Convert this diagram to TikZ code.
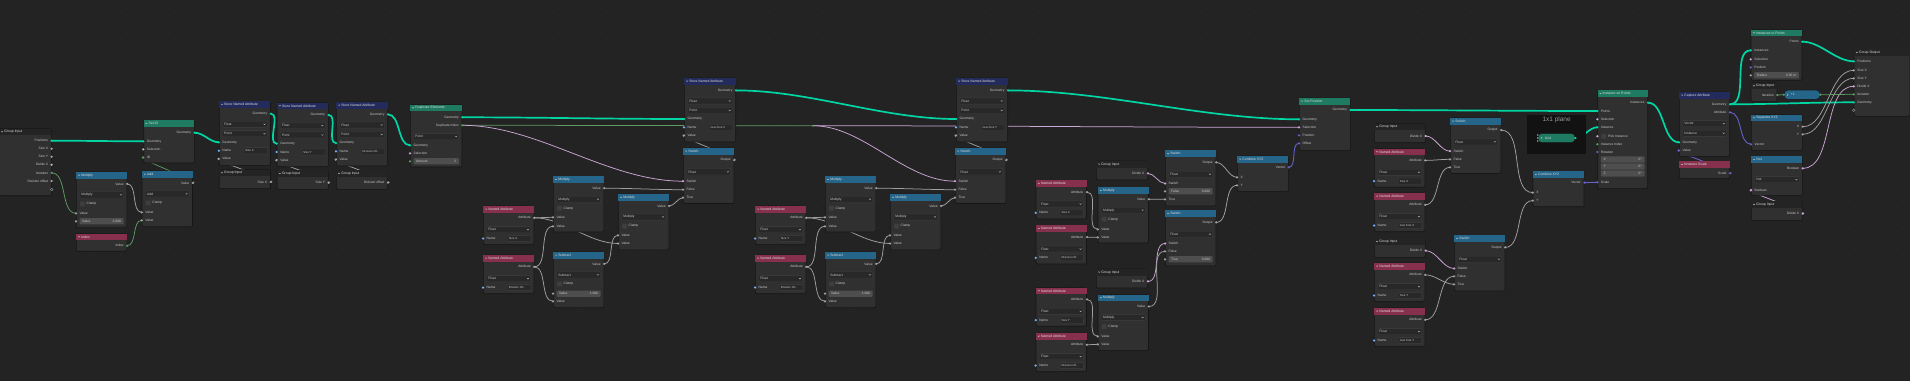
\documentclass[tikz,border=0pt]{standalone}
\usepackage{fontspec}
\setmainfont{Liberation Sans}
\usetikzlibrary{calc}
\pgfdeclarelayer{bg}
\pgfdeclarelayer{wires}
\pgfsetlayers{bg,wires,main}
\definecolor{canvas}{HTML}{232323}
\definecolor{dotc}{HTML}{2B2B2B}
\definecolor{body}{HTML}{303030}
\definecolor{rim}{HTML}{161616}
\definecolor{txt}{HTML}{CACACA}
\definecolor{hdgroup}{HTML}{242424}
\definecolor{hdgeo}{HTML}{1F7A62}
\definecolor{hdattr}{HTML}{232B5C}
\definecolor{hdin}{HTML}{87304E}
\definecolor{hdconv}{HTML}{25658A}
\definecolor{fldbg}{HTML}{282828}
\definecolor{fldrim}{HTML}{3E3E3E}
\definecolor{valbg}{HTML}{4E4E4E}
\definecolor{framebg}{HTML}{121212}
\definecolor{geoc}{HTML}{00D6A3}
\definecolor{fltc}{HTML}{A1A1A1}
\definecolor{intc}{HTML}{5E9A61}
\definecolor{boolc}{HTML}{CCA6D6}
\definecolor{vecc}{HTML}{6363C7}
\definecolor{strc}{HTML}{70B2FF}

% node body + header: name, x, y, width, height, header colour, title
\newcommand\bnode[7]{%
  \node[nbody, minimum width=#4pt, minimum height=#5pt] (#1) at (#2,#3) {};
  \fill[#6] ([shift={(0.35pt,-0.35pt)}]#1.north west) rectangle ([shift={(-0.35pt,-7pt)}]#1.north east);
  \draw[chev, draw=white!80!black] ([shift={(2.2pt,-3pt)}]#1.north west) -- ++(0.9,0.9) -- ++(0.9,-0.9);
  \node[ttl] at ([shift={(5.2pt,-3.5pt)}]#1.north west) {#7};
}
% sockets: node, key, y, label, colour
\newcommand\so[5]{%
  \coordinate (#1-#2) at (#1.east |- 0,#3);
  \node[lbl, anchor=east] at ([xshift=-3.4pt]#1-#2) {#4};
  \fill[#5] (#1-#2) circle (1.25pt);
}
\newcommand\si[5]{%
  \coordinate (#1-#2) at (#1.west |- 0,#3);
  \node[lbl, anchor=west] at ([xshift=3.4pt]#1-#2) {#4};
  \fill[#5] (#1-#2) circle (1.25pt);
}
% dropdown: node, y, text
\newcommand\dd[3]{%
  \coordinate (fl) at (#1.west |- 0,#2);
  \coordinate (fr) at (#1.east |- 0,#2);
  \draw[fld] ([shift={(3.5pt,3.1pt)}]fl) rectangle ([shift={(-3.5pt,-3.1pt)}]fr);
  \node[lbl, anchor=west] at ([xshift=5.2pt]fl) {#3};
  \draw[chev] ([shift={(-7.2pt,0.5pt)}]fr) -- ++(0.9,0.9) -- ++(0.9,-0.9);
}
% number field: node, y, label, value (+ socket colour)
\newcommand\fx[4]{%
  \coordinate (fl) at (#1.west |- 0,#2);
  \coordinate (fr) at (#1.east |- 0,#2);
  \fill[valf] ([shift={(3.5pt,3.1pt)}]fl) rectangle ([shift={(-3.5pt,-3.1pt)}]fr);
  \node[lbl, anchor=west] at ([xshift=6pt]fl) {#3};
  \node[lbl, anchor=east] at ([xshift=-6pt]fr) {#4};
}
\newcommand\fv[5]{\fx{#1}{#2}{#3}{#4}\fill[#5] (fl) circle (1.25pt);}
% name field: node, y, value
\newcommand\nm[3]{%
  \coordinate (fl) at (#1.west |- 0,#2);
  \coordinate (fr) at (#1.east |- 0,#2);
  \node[lbl, anchor=west] at ([xshift=3.4pt]fl) {Name};
  \draw[fld] ([shift={(-27pt,3.1pt)}]fr) rectangle ([shift={(-3.5pt,-3.1pt)}]fr);
  \node[lbl, anchor=west, font=\fontsize{2.9}{3.4}\selectfont] at ([xshift=-25.6pt]fr) {#3};
  \fill[strc] (fl) circle (1.25pt);
}
% checkbox: node, y, label
\newcommand\cb[3]{%
  \coordinate (fl) at (#1.west |- 0,#2);
  \fill[chk] ([shift={(4pt,2.4pt)}]fl) rectangle ([shift={(8.8pt,-2.4pt)}]fl);
  \node[lbl, anchor=west] at ([xshift=10.5pt]fl) {#3};
}
% node kinds
\newcommand\gin[6]{%
  \bnode{#1}{#2}{#3}{#4}{19}{hdgroup}{Group Input}
  \so{#1}{o}{#3+12.7}{#5}{#6}
}
\newcommand\sna[4]{%
  \bnode{#1}{#2}{#3}{51.3}{64}{hdattr}{Store Named Attribute}
  \so{#1}{geo}{#3+12.7}{Geometry}{geoc}
  \dd{#1}{#3+23.3}{Float}
  \dd{#1}{#3+32.7}{Point}
  \si{#1}{gin}{#3+41.3}{Geometry}{geoc}
  \nm{#1}{#3+49.7}{#4}
  \si{#1}{val}{#3+57.7}{Value}{fltc}
}
\newcommand\nattr[4]{%
  \bnode{#1}{#2}{#3}{50.5}{38.6}{hdin}{Named Attribute}
  \so{#1}{att}{#3+12.1}{Attribute}{fltc}
  \dd{#1}{#3+24}{Float}
  \nm{#1}{#3+32.8}{#4}
}
\newcommand\mathn[4]{%
  \bnode{#1}{#2}{#3}{50.5}{55.7}{hdconv}{#4}
  \so{#1}{v}{#3+12.2}{Value}{fltc}
  \dd{#1}{#3+23.2}{#4}
  \cb{#1}{#3+32.3}{Clamp}
}
\newcommand\swn[3]{%
  \bnode{#1}{#2}{#3}{50.5}{55.5}{hdconv}{Switch}
  \so{#1}{o}{#3+12.4}{Output}{fltc}
  \dd{#1}{#3+24.2}{Float}
  \si{#1}{sw}{#3+33.5}{Switch}{boolc}
}
\newcommand\cmb[3]{%
  \bnode{#1}{#2}{#3}{51}{35.3}{hdconv}{Combine XYZ}
  \so{#1}{v}{#3+11.6}{Vector}{vecc}
  \si{#1}{x}{#3+21.6}{X}{fltc}
  \si{#1}{y}{#3+29.6}{Y}{fltc}
}

\begin{document}
\begin{tikzpicture}[x=1pt, y=-1pt,
  nbody/.style={draw=rim, fill=body, line width=0.7pt, rounded corners=1.2pt,
                inner sep=0pt, anchor=north west},
  ttl/.style={font=\fontsize{3.4}{4}\selectfont, text=white!88!black, inner sep=0pt, anchor=west},
  lbl/.style={font=\fontsize{3.3}{4}\selectfont, text=txt, inner sep=0pt},
  chev/.style={draw=txt, line width=0.35pt},
  fld/.style={draw=fldrim, fill=fldbg, line width=0.35pt, rounded corners=0.8pt},
  valf/.style={fill=valbg, rounded corners=0.8pt},
  chk/.style={fill=valbg!80!black, rounded corners=0.5pt},
  hollow/.style={draw=txt!70!black, line width=0.45pt},
  pill/.style={draw=rim, line width=0.5pt, rounded corners=4pt, minimum height=9.4pt, inner sep=0pt},
  wire/.style={out=0, in=180, looseness=0.85},
  loopback/.style={out=0, in=180, looseness=0.45},
  geo/.style={draw=geoc, line width=1.7pt},
  flt/.style={draw=fltc, line width=0.75pt},
  intw/.style={draw=intc, line width=0.75pt},
  boolw/.style={draw=boolc, line width=0.75pt},
  vecw/.style={draw=vecc, line width=0.9pt},
]
  \useasboundingbox (0,0) rectangle (1910,381);
  \begin{pgfonlayer}{bg}
    \fill[canvas] (0,0) rectangle (1910,381);
    \foreach \gx in {13,40,...,1910}
      \foreach \gy in {12,39,...,381}
        \fill[dotc] (\gx,\gy) circle (0.8pt);
  \end{pgfonlayer}

  % --- group input, id ---
  \bnode{gi}{-1}{128.3}{52}{67}{hdgroup}{Group Input}
  \so{gi}{pos}{140.7}{Positions}{geoc}
  \so{gi}{sx}{148.7}{Size X}{fltc}
  \so{gi}{sy}{156.7}{Size Y}{fltc}
  \so{gi}{dx}{164.7}{Divide X}{boolc}
  \so{gi}{it}{172.9}{Iteration}{intc}
  \so{gi}{off}{181}{Division offset}{fltc}
  \draw[hollow] (gi.east |- 0,189.5) circle (1.3pt);

  \mathn{mul}{76}{171.7}{Multiply}
  \si{mul}{a}{213.3}{Value}{fltc}
  \fv{mul}{221.3}{Value}{2.000}{fltc}
  \bnode{idx}{76}{233.3}{50.5}{17.5}{hdin}{Index}
  \so{idx}{i}{245.7}{Index}{intc}
  \mathn{add}{141.7}{170.7}{Add}
  \si{add}{a}{212.3}{Value}{fltc}
  \si{add}{b}{220.3}{Value}{fltc}
  \bnode{sid}{143.3}{120}{50.7}{42.7}{hdgeo}{Set ID}
  \so{sid}{geo}{132.7}{Geometry}{geoc}
  \si{sid}{gin}{141.3}{Geometry}{geoc}
  \si{sid}{sel}{149.3}{Selection}{boolc}
  \si{sid}{id}{157.3}{ID}{intc}

  % --- store the inputs ---
  \sna{sa}{218.8}{101}{Size X}
  \sna{sb}{276.7}{102.3}{Size Y}
  \sna{sc}{336}{101.7}{Division off...}
  \gin{gsx}{218.8}{169.3}{51.3}{Size X}{fltc}
  \gin{gsy}{276.7}{170}{51.3}{Size Y}{fltc}
  \gin{goff}{336}{170}{51.3}{Division offset}{fltc}

  \bnode{dup}{410}{104.3}{51.7}{62.4}{hdgeo}{Duplicate Elements}
  \so{dup}{geo}{117.3}{Geometry}{geoc}
  \so{dup}{idx}{125.3}{Duplicate Index}{intc}
  \dd{dup}{136.7}{Point}
  \si{dup}{gin}{145.3}{Geometry}{geoc}
  \si{dup}{sel}{153.3}{Selection}{boolc}
  \fv{dup}{161.3}{Amount}{2}{intc}
  \coordinate (rr) at (813,125.7);
  \fill[intc] (rr) circle (1.1pt);

  % --- new size X and new size Y ---
  \foreach \p/\dx/\lab in {sx/0/Size X, sy/272/Size Y}{
    \nattr{\p na}{483+\dx}{205.7}{\lab}
    \nattr{\p nd}{483+\dx}{254.7}{Division off...}
    \mathn{\p ma}{553+\dx}{176}{Multiply}
    \si{\p ma}{a}{217.3}{Value}{fltc}
    \si{\p ma}{b}{226.3}{Value}{fltc}
    \mathn{\p su}{553+\dx}{251.7}{Subtract}
    \fv{\p su}{293.7}{Value}{1.000}{fltc}
    \si{\p su}{b}{301.3}{Value}{fltc}
    \mathn{\p mb}{618+\dx}{193.8}{Multiply}
    \si{\p mb}{a}{235.3}{Value}{fltc}
    \si{\p mb}{b}{243.5}{Value}{fltc}
    \swn{\p sw}{683+\dx}{147.7}
    \si{\p sw}{f}{189.7}{False}{fltc}
    \si{\p sw}{t}{197.7}{True}{fltc}
    \sna{\p st}{684+\dx}{77.7}{new \lab}
    \begin{pgfonlayer}{wires}
      \draw[flt] (\p na-att) to[wire] (\p ma-a);
      \draw[flt] (\p na-att) to[wire] (\p mb-b);
      \draw[flt] (\p nd-att) to[wire] (\p ma-b);
      \draw[flt] (\p nd-att) to[wire] (\p su-b);
      \draw[flt] (\p su-v) to[wire] (\p mb-a);
      \draw[flt] (\p ma-v) to[wire] (\p sw-f);
      \draw[flt] (\p mb-v) to[wire] (\p sw-t);
      \draw[flt] (\p sw-o) to[loopback] (\p st-val);
    \end{pgfonlayer}
  }

  % --- offset ---
  \gin{gdxa}{1096}{160.7}{51.3}{Divide X}{boolc}
  \nattr{oxa}{1035.7}{180}{Size X}
  \nattr{oxb}{1035.7}{225}{Division off...}
  \mathn{oma}{1097.7}{187}{Multiply}
  \si{oma}{a}{229.3}{Value}{fltc}
  \si{oma}{b}{237.3}{Value}{fltc}
  \swn{osx}{1165}{150}
  \fv{osx}{191.3}{False}{0.000}{fltc}
  \si{osx}{t}{199.3}{True}{fltc}
  \swn{osy}{1165}{210}
  \si{osy}{f}{251.3}{False}{fltc}
  \fv{osy}{259.3}{True}{0.000}{fltc}
  \gin{gdxb}{1096}{268.7}{51.3}{Divide X}{boolc}
  \nattr{oya}{1035.7}{287.3}{Size Y}
  \nattr{oyb}{1035.7}{332.7}{Division off...}
  \mathn{omb}{1097.7}{294.3}{Multiply}
  \si{omb}{a}{336.3}{Value}{fltc}
  \si{omb}{b}{344.3}{Value}{fltc}
  \cmb{ocx}{1237}{155.7}

  \bnode{sp}{1299}{97.7}{51}{52.3}{hdgeo}{Set Position}
  \so{sp}{geo}{110}{Geometry}{geoc}
  \si{sp}{gin}{119.3}{Geometry}{geoc}
  \si{sp}{sel}{127.3}{Selection}{boolc}
  \si{sp}{pos}{135.3}{Position}{vecc}
  \si{sp}{off}{143.3}{Offset}{vecc}

  % --- scale ---
  \gin{gdxc}{1374}{123.3}{51}{Divide X}{boolc}
  \nattr{sca}{1374}{148.3}{Size X}
  \nattr{scb}{1374}{192.7}{new Size X}
  \gin{gdxd}{1374}{238}{51}{Divide X}{boolc}
  \nattr{scc}{1374}{262.7}{Size Y}
  \nattr{scd}{1374}{307.7}{new Size Y}
  \swn{ssx}{1450}{117.7}
  \si{ssx}{f}{159.3}{False}{fltc}
  \si{ssx}{t}{167.3}{True}{fltc}
  \swn{ssy}{1454}{235}
  \si{ssy}{f}{276.3}{False}{fltc}
  \si{ssy}{t}{284.3}{True}{fltc}
  \cmb{scx}{1532.7}{171}

  % --- 1x1 plane frame ---
  \fill[framebg] (1527.3,115) rectangle (1586,154.3);
  \node[font=\fontsize{6.5}{7}\selectfont, text=txt!75!black, inner sep=0pt] (plane) at (1556.6,119.8) {1x1 plane};
  \node[pill, fill=hdgeo, minimum width=37pt] (grid) at (1556.5,138) {};
  \draw[chev, draw=white!85!black] ([shift={(3.6pt,1pt)}]grid.west) -- ++(0.8,1) -- ++(-0.8,1);
  \node[lbl, anchor=west, text=white!85!black] at ([xshift=7pt]grid.west) {Grid};
  \foreach \dy in {-3,0,3}
    \fill[fltc] ([yshift=\dy pt]grid.west) circle (0.9pt);
  \fill[geoc] (grid.east) circle (1.25pt);

  % --- instancing ---
  \bnode{iop}{1597.3}{90}{50}{98.3}{hdgeo}{Instance on Points}
  \so{iop}{inst}{102.7}{Instances}{geoc}
  \si{iop}{pts}{111}{Points}{geoc}
  \si{iop}{sel}{119.3}{Selection}{boolc}
  \si{iop}{ins}{127.3}{Instance}{geoc}
  \si{iop}{pick}{136.3}{}{boolc}
  \cb{iop}{136.3}{Pick Instance}
  \si{iop}{iidx}{144.3}{Instance Index}{intc}
  \si{iop}{rot}{152}{Rotation}{vecc}
  \fx{iop}{159.5}{X}{0°}
  \fx{iop}{166.5}{Y}{0°}
  \fx{iop}{173.5}{Z}{0°}
  \si{iop}{scale}{182.3}{Scale}{vecc}

  \bnode{cap}{1679}{91.7}{50.3}{64.3}{hdattr}{Capture Attribute}
  \so{cap}{geo}{104.3}{Geometry}{geoc}
  \so{cap}{att}{112.3}{Attribute}{vecc}
  \dd{cap}{123.7}{Vector}
  \dd{cap}{133.3}{Instance}
  \si{cap}{gin}{142.3}{Geometry}{geoc}
  \si{cap}{val}{150.3}{Value}{vecc}
  \bnode{isc}{1679}{161}{50.3}{17.3}{hdin}{Instance Scale}
  \so{isc}{s}{173.3}{Scale}{vecc}

  \bnode{itp}{1750.7}{29.3}{51}{50.7}{hdgeo}{Instances to Points}
  \so{itp}{pts}{41.7}{Points}{geoc}
  \si{itp}{inst}{50.3}{Instances}{geoc}
  \si{itp}{sel}{59.3}{Selection}{boolc}
  \si{itp}{pos}{67.3}{Position}{vecc}
  \fv{itp}{75.3}{Radius}{0.05 m}{fltc}
  \gin{git}{1750.7}{82.3}{26}{Iteration}{intc}
  \node[pill, fill=hdconv, minimum width=36pt] (inc) at (1802,94.7) {};
  \draw[chev, draw=white!85!black] ([shift={(3.6pt,1pt)}]inc.west) -- ++(0.8,1) -- ++(-0.8,1);
  \node[lbl, anchor=west, text=white!85!black] at ([xshift=7pt]inc.west) {+1};
  \fill[intc] (inc.west) circle (1.1pt);
  \fill[intc] (inc.east) circle (1.25pt);

  \bnode{sep}{1751}{114.3}{51}{35.7}{hdconv}{Separate XYZ}
  \so{sep}{x}{126.7}{X}{fltc}
  \so{sep}{y}{134.3}{Y}{fltc}
  \si{sep}{vec}{144.3}{Vector}{vecc}
  \bnode{nt}{1751}{156}{51}{39}{hdconv}{Not}
  \so{nt}{b}{168.3}{Boolean}{boolc}
  \dd{nt}{179.7}{Not}
  \si{nt}{bin}{190}{Boolean}{boolc}
  \gin{gdxe}{1751}{201}{51}{Divide X}{boolc}

  \bnode{go}{1853.7}{49}{56}{67}{hdgroup}{Group Output}
  \si{go}{pos}{61.3}{Positions}{geoc}
  \si{go}{sx}{70.3}{Size X}{fltc}
  \si{go}{sy}{78.3}{Size Y}{fltc}
  \si{go}{dx}{86.3}{Divide X}{boolc}
  \si{go}{it}{94.3}{Iteration}{intc}
  \si{go}{geo}{102.3}{Geometry}{geoc}
  \draw[hollow] (go.west |- 0,110.3) circle (1.3pt);

  % --- wires ---
  \begin{pgfonlayer}{wires}
    \draw[geo] (gi-pos) to[wire] (sid-gin);
    \draw[intw] (gi-it) to[wire] (mul-a);
    \draw[flt] (mul-v) to[wire] (add-a);
    \draw[intw] (idx-i) to[wire] (add-b);
    \draw[intw] (add-v) to[loopback] (sid-id);
    \draw[geo] (sid-geo) to[wire] (sa-gin);
    \draw[geo] (sa-geo) to[wire] (sb-gin);
    \draw[geo] (sb-geo) to[wire] (sc-gin);
    \draw[geo] (sc-geo) to[wire] (dup-gin);
    \draw[flt] (gsx-o) to[loopback] (sa-val);
    \draw[flt] (gsy-o) to[loopback] (sb-val);
    \draw[flt] (goff-o) to[loopback] (sc-val);
    \draw[geo] (dup-geo) to[wire] (sxst-gin);
    \draw[intw] (dup-idx) to[wire] (rr);
    \draw[boolw] (dup-idx) to[wire] (sxsw-sw);
    \draw[boolw] (rr) to[wire] (sysw-sw);
    \draw[boolw] (rr) to[wire] (sp-sel);
    \draw[geo] (sxst-geo) to[wire] (syst-gin);
    \draw[geo] (syst-geo) to[wire] (sp-gin);

    \draw[flt] (oxa-att) to[wire] (oma-a);
    \draw[flt] (oxb-att) to[wire] (oma-b);
    \draw[boolw] (gdxa-o) to[wire] (osx-sw);
    \draw[flt] (oma-v) to[wire] (osx-t);
    \draw[flt] (osx-o) to[wire] (ocx-x);
    \draw[boolw] (gdxb-o) to[wire] (osy-sw);
    \draw[flt] (omb-v) to[wire] (osy-f);
    \draw[flt] (oya-att) to[wire] (omb-a);
    \draw[flt] (oyb-att) to[wire] (omb-b);
    \draw[flt] (osy-o) to[wire] (ocx-y);
    \draw[vecw] (ocx-v) to[wire] (sp-off);

    \draw[boolw] (gdxc-o) to[wire] (ssx-sw);
    \draw[flt] (sca-att) to[wire] (ssx-f);
    \draw[flt] (scb-att) to[wire] (ssx-t);
    \draw[flt] (ssx-o) to[wire] (scx-x);
    \draw[boolw] (gdxd-o) to[wire] (ssy-sw);
    \draw[flt] (scc-att) to[wire] (ssy-t);
    \draw[flt] (scd-att) to[wire] (ssy-f);
    \draw[flt] (ssy-o) to[wire] (scx-y);
    \draw[vecw] (scx-v) to[wire] (iop-scale);

    \draw[geo] (sp-geo) to[wire] (iop-pts);
    \draw[geo] (grid.east) to[wire] (iop-ins);
    \draw[geo] (iop-inst) to[wire] (cap-gin);
    \draw[vecw] (isc-s) to[loopback] (cap-val);
    \draw[geo] (cap-geo) to[wire] (itp-inst);
    \draw[geo] (cap-geo) to[wire] (go-geo);
    \draw[vecw] (cap-att) to[wire] (sep-vec);
    \draw[geo] (itp-pts) to[wire] (go-pos);
    \draw[flt] (sep-x) to[wire] (go-sx);
    \draw[flt] (sep-y) to[wire] (go-sy);
    \draw[boolw] (nt-b) to[wire] (go-dx);
    \draw[boolw] (gdxe-o) to[loopback] (nt-bin);
    \draw[intw] (git-o) to[wire] (inc.west);
    \draw[intw] (inc.east) to[wire] (go-it);
  \end{pgfonlayer}
\end{tikzpicture}
\end{document}
